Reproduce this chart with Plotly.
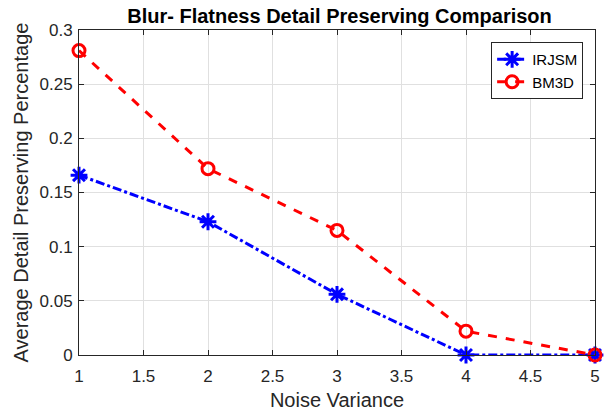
import plotly.graph_objects as go

noise_variance = [1, 2, 3, 4, 5]
irjsm = [0.166, 0.123, 0.056, 0.0, 0.0]
bm3d = [0.281, 0.172, 0.115, 0.022, 0.0]

x_ticks = [1, 1.5, 2, 2.5, 3, 3.5, 4, 4.5, 5]
x_tick_text = ["1", "1.5", "2", "2.5", "3", "3.5", "4", "4.5", "5"]
y_ticks = [0, 0.05, 0.1, 0.15, 0.2, 0.25, 0.3]
y_tick_text = ["0", "0.05", "0.1", "0.15", "0.2", "0.25", "0.3"]

FONT = "Liberation Sans, Arial, sans-serif"

fig = go.Figure()
fig.add_trace(go.Scatter(
    x=noise_variance, y=irjsm, name="IRJSM", mode="lines+markers",
    line=dict(color="#0000ff", width=3, dash="dashdot"),
    marker=dict(symbol="asterisk-open", size=14, color="#0000ff", line=dict(color="#0000ff", width=3)),
    cliponaxis=False,
))
fig.add_trace(go.Scatter(
    x=noise_variance, y=bm3d, name="BM3D", mode="lines+markers",
    line=dict(color="#ff0000", width=3, dash="dash"),
    marker=dict(symbol="circle-open", size=12, color="#ff0000", line=dict(color="#ff0000", width=3)),
    cliponaxis=False,
))

axis_common = dict(
    showline=True, linecolor="#262626", linewidth=1, mirror="allticks",
    ticks="inside", ticklen=5, tickcolor="#262626",
    showgrid=True, gridcolor="#e0e0e0", gridwidth=1, zeroline=False,
    tickfont=dict(family=FONT, size=17, color="#262626"),
    ticklabeloverflow="allow",
)

fig.update_layout(
    width=605, height=414,
    margin=dict(l=79, r=5, t=30, b=59),
    paper_bgcolor="white", plot_bgcolor="white",
    title=dict(text="<b>Blur- Flatness Detail Preserving Comparison</b>",
               x=(79 + 600) / 2 / 605, xanchor="center", y=1 - 16 / 414, yanchor="middle",
               font=dict(family=FONT, size=20, color="black")),
    xaxis=dict(range=[1, 5], tickvals=x_ticks, ticktext=x_tick_text,
               ticklabelstandoff=6,
               title=dict(text="Noise Variance", font=dict(family=FONT, size=20, color="#262626"), standoff=7),
               **axis_common),
    yaxis=dict(range=[0, 0.3], tickvals=y_ticks, ticktext=y_tick_text,
               ticklabelstandoff=2,
               title=dict(text="Average Detail Preserving Percentage", font=dict(family=FONT, size=20, color="#262626"), standoff=5),
               **axis_common),
    legend=dict(x=0.977, y=0.963, xanchor="right", yanchor="top",
                bgcolor="white", bordercolor="#262626", borderwidth=1,
                font=dict(family=FONT, size=15, color="black"),
                tracegroupgap=0, itemwidth=30),
    showlegend=True,
)

fig.write_html("out.html")
